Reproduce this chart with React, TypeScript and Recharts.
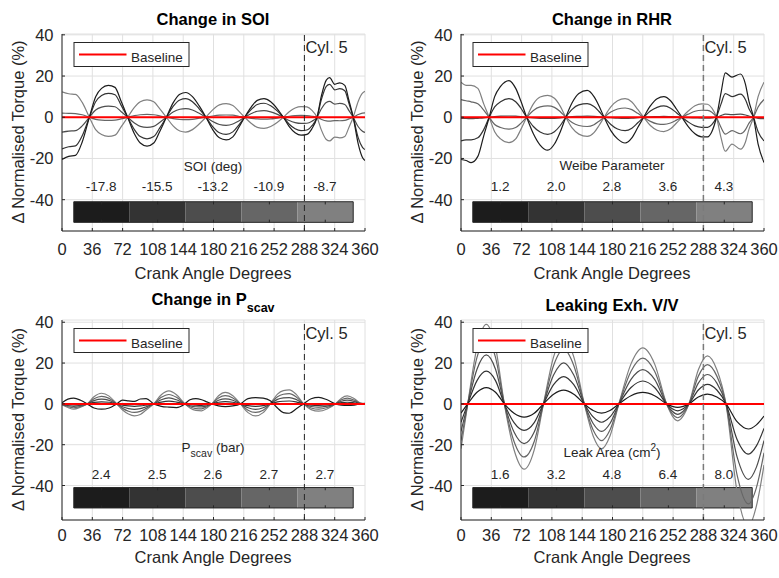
import React from "react";
import { LineChart, Line, XAxis, YAxis, CartesianGrid, ReferenceLine, ReferenceArea } from "recharts";

const FONT = '"Liberation Sans", Arial, Helvetica, sans-serif';
const AX = "#262626";
const GRID = "#e0e0e0";
const GRAYS = ["#1c1c1c", "#333333", "#4d4d4d", "#666666", "#808080"];
const RED = "#ff0000";

const X_TICKS = [0, 36, 72, 108, 144, 180, 216, 252, 288, 324, 360];
const Y_TICKS = [-40, -20, 0, 20, 40];
const BASELINE = 0;
const CYL5_CA = 288;

// colour bar (degrees along x, torque units along y)
const CB_EDGES = [14, 80.4, 146.8, 213.2, 279.6, 346];
const CB_Y = [-51, -41];

const SOI_LABELS = ["-17.8", "-15.5", "-13.2", "-10.9", "-8.7"];
const RHR_LABELS = ["1.2", "2.0", "2.8", "3.6", "4.3"];
const PSCAV_LABELS = ["2.4", "2.5", "2.6", "2.7", "2.7"];
const LEAK_LABELS = ["1.6", "3.2", "4.8", "6.4", "8.0"];

// ---- Change in SOI ----
const X_SOI = [0, 8, 16, 24, 32.5, 40, 47, 55, 63, 70, 78, 86, 93, 101, 109, 116, 124, 132, 140, 147, 155, 163, 171, 179, 187, 195, 203, 210, 217, 225, 232, 240, 248, 256, 263, 270, 277, 284, 291, 297, 303, 308, 314, 318, 324, 330, 336, 341, 346, 352, 357, 360];
const SOI_1 = [-20.5, -19, -18.5, -12, 0, 10, 14, 15.5, 14.5, 8, 0, -8, -12.5, -14, -12.5, -7, 0, 7, 11.2, 12, 10, 5.5, 0, -6, -10, -11, -9.5, -5, 0, 5, 8.2, 9, 7.5, 4, 0, -4.5, -7.5, -8.7, -8.3, -5.5, 0, 10, 18, 19.2, 16, 16.7, 15.5, 8, 0, -13, -19.5, -21];
const SOI_2 = [-15.4, -14.3, -13.9, -9, 0, 7.5, 10.5, 11.6, 10.9, 6, 0, -6, -9.4, -10.5, -9.4, -5.3, 0, 5.3, 8.4, 9, 7.5, 4.1, 0, -4.5, -7.5, -8.3, -7.1, -3.8, 0, 3.8, 6.2, 6.8, 5.6, 3, 0, -3.4, -5.6, -6.5, -6.2, -4.1, 0, 8.3, 15, 16, 13.3, 13.9, 12.9, 6.6, 0, -10, -14.6, -15.7];
const SOI_3 = [-7.2, -6.7, -6.5, -4.2, 0, 3.5, 4.9, 5.4, 5.1, 2.8, 0, -2.8, -4.4, -4.9, -4.4, -2.5, 0, 2.5, 3.9, 4.2, 3.5, 1.9, 0, -2.1, -3.5, -3.9, -3.3, -1.8, 0, 1.8, 2.9, 3.2, 2.6, 1.4, 0, -1.6, -2.6, -3, -2.9, -1.9, 0, 4, 7.2, 7.7, 6.4, 6.7, 6.2, 3.2, 0, -4.6, -6.8, -7.4];
const SOI_4 = [2, 1.9, 1.8, 1.2, 0, -1, -1.4, -1.5, -1.4, -0.8, 0, 0.8, 1.2, 1.4, 1.2, 0.7, 0, -0.7, -1.1, -1.2, -1, -0.5, 0, 0.6, 1, 1.1, 1, 0.5, 0, -0.5, -0.8, -0.9, -0.8, -0.4, 0, 0.5, 0.8, 0.9, 0.8, 0.5, 0, -1, -1.8, -1.9, -1.6, -1.7, -1.5, -0.8, 0, 1.3, 2, 2.1];
const SOI_5 = [12.3, 11.4, 11.1, 7.2, 0, -6, -8.4, -9.3, -8.7, -4.8, 0, 4.8, 7.5, 8.4, 7.5, 4.2, 0, -4.2, -6.7, -7.2, -6, -3.3, 0, 3.6, 6, 6.6, 5.7, 3, 0, -3, -4.9, -5.4, -4.5, -2.4, 0, 2.7, 4.5, 5.2, 5, 3.3, 0, -6, -10.8, -11.5, -9.6, -10, -9.3, -4.8, 0, 7.8, 11.7, 12.6];

// ---- Change in RHR ----
const X_RHR = [0, 6, 12, 20, 27, 33.5, 40, 47, 57, 65, 71, 78, 86, 94, 103, 111, 118, 124.5, 132, 140, 150, 158, 164, 170, 178, 186, 195, 203, 210, 217, 225, 233, 241, 249, 256, 262.5, 270, 278, 286, 293, 298, 303.5, 309, 314, 322, 332, 338, 342, 347.5, 353, 360];
const RHR_1 = [-20.5, -21, -22, -19, -9, 0, 10, 15, 17.8, 14, 8, 0, -8, -13.5, -16, -13, -7, 0, 7, 11.5, 13, 10, 5.5, 0, -6.5, -10.5, -12.5, -10, -5, 0, 5.5, 9, 10, 8, 4, 0, -4.5, -8, -9.5, -9.5, -7, 0, 12, 21.5, 19.5, 21, 16, 8, 0, -13, -22];
const RHR_2 = [-11.5, -11, -11, -10, -6, 0, 5, 7.5, 9, 7.5, 4.5, 0, -4.5, -7.2, -8.3, -7, -4, 0, 3.8, 6, 6.6, 5.2, 2.8, 0, -3.5, -5.7, -6.5, -5.3, -2.7, 0, 3, 4.8, 5.5, 4.4, 2.2, 0, -2.3, -4.2, -4.9, -4.9, -3.6, 0, 6.5, 11.5, 10, 11.2, 8.5, 4.3, 0, -7, -11.5];
const RHR_3 = [-0.6, -0.6, -0.7, -0.5, -0.3, 0, 0.3, 0.5, 0.6, 0.5, 0.3, 0, -0.3, -0.5, -0.6, -0.5, -0.3, 0, 0.3, 0.4, 0.5, 0.4, 0.2, 0, -0.2, -0.4, -0.5, -0.4, -0.2, 0, 0.2, 0.3, 0.4, 0.3, 0.2, 0, -0.2, -0.3, -0.4, -0.4, -0.3, 0, 0.8, 1.5, 1.3, 1.5, 1.1, 0.6, 0, -0.5, -0.7];
const RHR_4 = [8.6, 8, 7.5, 6.5, 3.5, 0, -3.5, -5, -5.8, -5, -3, 0, 3.3, 5, 5.5, 4.8, 2.7, 0, -2.6, -4, -4.5, -3.6, -1.9, 0, 2.5, 4, 4.5, 3.7, 1.9, 0, -2, -3.2, -3.5, -2.8, -1.4, 0, 1.5, 2.9, 3.4, 3.3, 2.4, 0, -5, -8.2, -6.5, -8, -6, -3, 0, 5, 8.6];
const RHR_5 = [17, 15.5, 15.5, 14, 6.5, 0, -7, -10.5, -12.3, -10.5, -6, 0, 6.5, 9.8, 10.6, 9.2, 5.3, 0, -5.2, -8.2, -9.3, -7.5, -4, 0, 5, 8, 9, 7.4, 3.8, 0, -4, -6.3, -7, -5.6, -2.8, 0, 3, 5.6, 6.5, 6.3, 4.5, 0, -10, -16.5, -13, -15.5, -12, -6, 0, 10, 17];

// ---- Change in Pscav ----
const X_PS = [0, 7, 14, 22, 30, 38, 47, 56, 65, 72, 79, 86, 93, 100, 109, 118, 127, 136, 146, 152, 159, 166, 172, 178, 186, 194, 203, 212, 221, 230, 239, 247.5, 256, 263, 270, 278, 287, 296, 305, 315, 325, 332, 339, 347, 354, 360];
const PS_1 = [0.5, 2.3, 2.8, 1.8, 0, -2, -2.6, -2, 0, 1.8, 1.5, 1.2, 2.4, 2.6, 0, -1.2, -1.6, -1.8, 0, 2, 2.6, 2, 1, 0, -1, -1.3, -1, 0, 2.6, 3.1, 2.8, 1.5, -2, -4.3, -4.6, -2.5, 0, 2.5, 3.2, 2, 0, -0.6, -0.8, -0.6, 0, 0.3];
const PS_2 = [-0.1, -0.4, -0.5, -0.3, 0, 0.7, 1, 0.8, 0, -0.6, -1, -1.2, -1, -0.6, 0, 0.9, 1.3, 0.9, 0, -0.4, -0.6, -0.7, -0.4, 0, 0.8, 1.1, 0.8, 0, -0.9, -1.2, -0.9, 0, 1, 1.3, 1.4, 1, 0, -0.6, -0.7, -0.5, 0, 0.6, 0.8, 0.5, 0.1, 0];
const PS_3 = [-0.2, -0.8, -1.2, -0.7, 0, 1.6, 2.3, 1.7, 0, -1.4, -2.3, -2.7, -2.3, -1.4, 0, 2, 2.9, 2, 0, -0.9, -1.4, -1.5, -0.9, 0, 1.8, 2.5, 1.8, 0, -1.9, -2.7, -1.9, 0, 2.2, 2.9, 3.1, 2.2, 0, -1.3, -1.6, -1.1, 0, 1.3, 1.8, 1.2, 0.2, 0];
const PS_4 = [-0.4, -1.3, -1.9, -1.2, 0, 2.5, 3.7, 2.7, 0, -2.2, -3.6, -4.2, -3.7, -2.2, 0, 3.2, 4.6, 3.2, 0, -1.4, -2.3, -2.4, -1.4, 0, 2.9, 4, 2.9, 0, -3.1, -4.2, -3.1, 0, 3.5, 4.7, 5, 3.5, 0, -2, -2.6, -1.8, 0, 2, 2.8, 1.9, 0.4, 0];
const PS_5 = [-0.5, -1.8, -2.6, -1.6, 0, 3.5, 5.2, 3.8, 0, -3, -5, -5.9, -5.2, -3, 0, 4.5, 6.4, 4.5, 0, -2, -3.2, -3.4, -2, 0, 4, 5.6, 4, 0, -4.3, -5.9, -4.3, 0, 4.8, 6.5, 6.9, 4.8, 0, -2.8, -3.6, -2.5, 0, 2.8, 3.9, 2.6, 0.5, 0];

// ---- Leaking exhaust valve ----
const X_LEAK = [0, 8, 19, 30, 41, 51.5, 63, 75, 87, 98, 110, 122, 134, 146.5, 157, 167, 177, 187.6, 202, 216, 230, 244.3, 251, 257.5, 264, 270.8, 282, 292.8, 304, 314.8, 328, 341.4, 351, 360];
const LEAK_1 = [-4.5, 0, 5.7, 8, 5.7, 0, -4.6, -6.5, -4.6, 0, 4.7, 6.7, 4.7, 0, -3.2, -4.5, -3.2, 0, 4, 5.6, 4, 0, -1.2, -1.7, -1.2, 0, 3.4, 4.8, 3.4, 0, -8.7, -12.3, -10.3, -6];
const LEAK_2 = [-9, 0, 11.4, 16, 11.4, 0, -9.2, -13, -9.2, 0, 9.4, 13.4, 9.4, 0, -6.4, -9, -6.4, 0, 8, 11.2, 8, 0, -2.4, -3.4, -2.4, 0, 6.8, 9.6, 6.8, 0, -17.4, -24.6, -20.6, -12];
const LEAK_3 = [-13.5, 0, 17, 24, 17, 0, -13.8, -19.5, -13.8, 0, 14.1, 20.1, 14.1, 0, -9.6, -13.5, -9.6, 0, 12, 16.8, 12, 0, -3.6, -5.1, -3.6, 0, 10.2, 14.4, 10.2, 0, -26, -37, -31, -18];
const LEAK_4 = [-18, 0, 22.8, 32, 22.8, 0, -18.4, -26, -18.4, 0, 18.8, 26.8, 18.8, 0, -12.8, -18, -12.8, 0, 16, 22.4, 16, 0, -4.8, -6.8, -4.8, 0, 13.6, 19.2, 13.6, 0, -34.8, -49, -41, -24];
const LEAK_5 = [-22, 0, 27.8, 39, 27.8, 0, -22.5, -32, -22.5, 0, 23, 33, 23, 0, -15.7, -22, -15.7, 0, 19.6, 27.4, 19.6, 0, -5.9, -8.3, -5.9, 0, 16.7, 23.5, 16.7, 0, -43, -60, -50, -30];

const TOP_ROW = { tickDy: 23.5, xlabelY: 278.5, cbLabelY: 190.7 };
const BOT_ROW = { tickDy: 21.2, xlabelY: 562.7, cbLabelY: 478.5 };

const PANELS = [
  {
    id: "soi", plotLeft: 61.5, plotTop: 33.5, plotW: 303, plotH: 197, yDomain: [-55.2, 40.4], row: TOP_ROW,
    x: X_SOI, series: [SOI_1, SOI_2, SOI_3, SOI_4, SOI_5], cbLabels: SOI_LABELS, dash: AX, dashW: 1,
    titleY: 25, cbTitle: <>SOI (deg)</>, cbTitleY: 170.7,
  },
  {
    id: "rhr", plotLeft: 460.5, plotTop: 33.5, plotW: 303, plotH: 197, yDomain: [-55.2, 40.4], row: TOP_ROW,
    x: X_RHR, series: [RHR_1, RHR_2, RHR_3, RHR_4, RHR_5], cbLabels: RHR_LABELS, dash: "#7a7a7a", dashW: 1.5,
    titleY: 25, cbTitle: <>Weibe Parameter</>, cbTitleY: 169.5,
  },
  {
    id: "ps", plotLeft: 61.5, plotTop: 319.5, plotW: 303, plotH: 200, yDomain: [-56.9, 41.1], row: BOT_ROW,
    x: X_PS, series: [PS_1, PS_2, PS_3, PS_4, PS_5], cbLabels: PSCAV_LABELS, dash: AX, dashW: 1,
    titleY: 305,
    cbTitle: <>P<tspan fontSize={10.5} dy={5}>scav</tspan><tspan dy={-5}> (bar)</tspan></>, cbTitleY: 451.7,
  },
  {
    id: "leak", plotLeft: 460.5, plotTop: 319.5, plotW: 303, plotH: 200, yDomain: [-56.9, 41.1], row: BOT_ROW,
    x: X_LEAK, series: [LEAK_1, LEAK_2, LEAK_3, LEAK_4, LEAK_5], cbLabels: LEAK_LABELS, dash: "#7a7a7a", dashW: 1.5,
    titleY: 311.3,
    cbTitle: <>Leak Area (cm<tspan fontSize={10} dy={-6}>2</tspan><tspan dy={6}>)</tspan></>, cbTitleY: 457,
  },
];

const TITLES: Record<string, React.ReactNode> = {
  soi: <>Change in SOI</>,
  rhr: <>Change in RHR</>,
  ps: <>Change in P<tspan fontSize={12.5} dy={6.5}>scav</tspan></>,
  leak: <>Leaking Exh. V/V</>,
};

const txt = { fontFamily: FONT, fill: AX };

function Panel({ p }: { p: any }) {
  const rows = p.x.map((v: number, i: number) => {
    const r: any = { x: v, base: BASELINE };
    p.series.forEach((s: number[], k: number) => (r["c" + k] = s[i]));
    return r;
  });
  const left = p.plotLeft - 50;
  const top = p.plotTop - 30;
  const width = p.plotW + 70;
  const height = p.plotH + 60;

  const bottomTick = (t: any) => (
    <g>
      <line x1={t.x} x2={t.x} y1={t.y} y2={t.y - 3} stroke={AX} />
      <text x={t.x} y={t.y + p.row.tickDy} textAnchor="middle" fontSize={16.5} {...txt}>{t.payload.value}</text>
    </g>
  );
  const topTick = (t: any) => <line x1={t.x} x2={t.x} y1={t.y} y2={t.y + 3} stroke={AX} />;
  const leftTick = (t: any) => (
    <g>
      <line x1={t.x} x2={t.x + 3} y1={t.y} y2={t.y} stroke={AX} />
      <text x={t.x - 8.5} y={t.y + 6} textAnchor="end" fontSize={16.5} {...txt}>{t.payload.value}</text>
    </g>
  );
  const rightTick = (t: any) => <line x1={t.x} x2={t.x - 3} y1={t.y} y2={t.y} stroke={AX} />;

  const cbCenters = CB_EDGES.slice(0, 5).map((e, i) => (e + CB_EDGES[i + 1]) / 2);

  return (
    <div style={{ position: "absolute", left, top }}>
      <LineChart width={width} height={height} data={rows} margin={{ top: 30, left: 10, right: 20, bottom: 0 }}>
        <CartesianGrid stroke={GRID} strokeWidth={1} />
        <XAxis dataKey="x" type="number" domain={[0, 360]} ticks={X_TICKS} interval={0} allowDataOverflow
          height={30} tickSize={0} tickMargin={0} tickLine={false} tick={bottomTick} axisLine={{ stroke: AX }} />
        <XAxis xAxisId="top" orientation="top" dataKey="x" type="number" domain={[0, 360]} ticks={X_TICKS} interval={0}
          allowDataOverflow height={0} tickSize={0} tickMargin={0} tickLine={false} tick={topTick} axisLine={{ stroke: AX }} />
        <YAxis type="number" domain={p.yDomain} ticks={Y_TICKS} interval={0} allowDataOverflow width={40}
          tickSize={0} tickMargin={0} tickLine={false} tick={leftTick} axisLine={{ stroke: AX }} />
        <YAxis yAxisId="right" orientation="right" type="number" domain={p.yDomain} ticks={Y_TICKS} interval={0}
          allowDataOverflow width={0} tickSize={0} tickMargin={0} tickLine={false} tick={rightTick} axisLine={{ stroke: AX }} />
        {GRAYS.map((c, i) => (
          <ReferenceArea key={"cb" + i} x1={CB_EDGES[i]} x2={CB_EDGES[i + 1]} y1={CB_Y[0]} y2={CB_Y[1]}
            fill={c} fillOpacity={1} stroke="none" />
        ))}
        <ReferenceArea x1={CB_EDGES[0]} x2={CB_EDGES[5]} y1={CB_Y[0]} y2={CB_Y[1]} fill="none" stroke={AX} strokeWidth={1} />
        {cbCenters.map((c) => (
          <ReferenceLine key={"tt" + c} segment={[{ x: c, y: CB_Y[1] }, { x: c, y: CB_Y[1] - 1.3 }]} stroke={AX} />
        ))}
        {cbCenters.map((c) => (
          <ReferenceLine key={"tb" + c} segment={[{ x: c, y: CB_Y[0] }, { x: c, y: CB_Y[0] + 1.3 }]} stroke={AX} />
        ))}
        {[4, 3, 2, 1, 0].map((k) => (
          <Line key={k} dataKey={"c" + k} type="monotone" stroke={GRAYS[k]} strokeWidth={1.2} dot={false}
            activeDot={false} isAnimationActive={false} />
        ))}
        <Line dataKey="base" type="linear" stroke={RED} strokeWidth={2} dot={false} activeDot={false} isAnimationActive={false} />
        <ReferenceLine x={CYL5_CA} stroke={p.dash} strokeWidth={p.dashW} strokeDasharray="6 4" />
      </LineChart>
    </div>
  );
}

function Overlay({ p }: { p: any }) {
  const cx = p.plotLeft + p.plotW / 2;
  const cy = p.plotTop + p.plotH / 2;
  const px = (deg: number) => p.plotLeft + (deg / 360) * p.plotW;
  const lx = p.plotLeft + 12.5;
  const ly = p.plotTop + 9;
  return (
    <g>
      <text x={cx} y={p.titleY} textAnchor="middle" fontWeight="bold" fontSize={16.5} fontFamily={FONT} fill="#000">
        {TITLES[p.id]}
      </text>
      <text x={p.plotLeft - 37.5} y={cy} textAnchor="middle" fontSize={16.5} {...txt}
        transform={`rotate(-90 ${p.plotLeft - 37.5} ${cy})`}>Δ Normalised Torque (%)</text>
      <text x={cx} y={p.row.xlabelY} textAnchor="middle" fontSize={16.5} {...txt}>Crank Angle Degrees</text>
      <rect x={lx} y={ly} width={115} height={24} fill="#fff" stroke={AX} strokeWidth={1} />
      <line x1={lx + 5} x2={lx + 52.5} y1={ly + 12} y2={ly + 12} stroke={RED} strokeWidth={2} />
      <text x={lx + 57} y={ly + 19.3} fontSize={13.5} {...txt}>Baseline</text>
      <text x={px(CYL5_CA) + 1.5} y={p.plotTop + 19} fontSize={16.5} {...txt}>Cyl. 5</text>
      <text x={cx} y={p.cbTitleY} textAnchor="middle" fontSize={13.5} {...txt}>{p.cbTitle}</text>
      {p.cbLabels.map((l: string, i: number) => (
        <text key={i} x={px((CB_EDGES[i] + CB_EDGES[i + 1]) / 2)} y={p.row.cbLabelY} textAnchor="middle" fontSize={13.5} {...txt}>
          {l}
        </text>
      ))}
    </g>
  );
}

export default function App() {
  return (
    <div style={{ position: "absolute", left: 0, top: 0, width: 779, height: 578, background: "#fff", overflow: "hidden" }}>
      {PANELS.map((p) => (
        <Panel key={p.id} p={p} />
      ))}
      <svg width={779} height={578} style={{ position: "absolute", left: 0, top: 0, pointerEvents: "none" }}>
        {PANELS.map((p) => (
          <Overlay key={p.id} p={p} />
        ))}
      </svg>
    </div>
  );
}
